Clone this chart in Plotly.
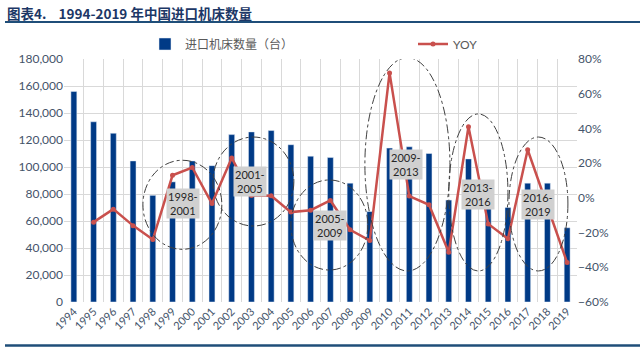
import plotly.graph_objects as go

years = [str(y) for y in range(1994, 2020)]
imports = [156000, 133500, 125000, 104500, 79000, 89000, 104500, 101000, 124000, 126000,
           127000, 116500, 108000, 107000, 88000, 67000, 114000, 115000, 110000, 75500,
           106000, 81000, 70000, 88000, 88000, 55000]
yoy_years = years[1:]
yoy = [-14.0, -6.5, -16.0, -24.0, 13.0, 17.5, -3.3, 23.0, 1.3, 1.2,
       -8.2, -7.1, -1.5, -18.4, -24.6, 72.0, 1.0, -4.0, -31.3, 41.0,
       -15.0, -23.6, 27.7, -5.0, -37.3]

# period callouts: label, ellipse bounds (x index range, y count range), label position
periods = [
    ("1998-<br>2001", (3.5, 7.5), (39000, 105000), (5.52, 72600)),
    ("2001-<br>2005", (7.05, 11.15), (56300, 122200), (8.92, 89600)),
    ("2005-<br>2009", (11.0, 14.9), (23700, 90400), (12.97, 57000)),
    ("2009-<br>2013", (14.75, 19.06), (23000, 181000), (16.83, 102200)),
    ("2013-<br>2016", (19.0, 22.0), (23000, 139300), (20.48, 80000)),
    ("2016-<br>2019", (22.05, 25.04), (23000, 122200), (23.52, 72000)),
]

tick_color = "#44546A"
font_fam = "Lato, 'Noto Sans CJK SC', sans-serif"

W, H = 513, 243
def px_x(p):
    return (p - 64) / W
def px_y(p):
    return (302 - p) / H

fig = go.Figure()
fig.add_trace(go.Bar(x=years, y=imports, name="进口机床数量（台）", marker_color="#003A86",
                     width=0.3, yaxis="y", legend="legend"))
fig.add_trace(go.Scatter(x=yoy_years, y=yoy, name="YOY", mode="lines+markers",
                         line=dict(color="#C9504D", width=2.5),
                         marker=dict(size=5, color="#C9504D"), yaxis="y2", legend="legend2"))

shapes = []
annotations = []
for label, (x0, x1), (y0, y1), (lx, ly) in periods:
    shapes.append(dict(type="circle", xref="x", yref="y", x0=x0, x1=x1, y0=y0, y1=y1,
                       line=dict(color="#404040", width=1, dash="dashdot"), layer="above"))
    annotations.append(dict(x=lx, y=ly, xref="x", yref="y", text=label, showarrow=False,
                            bgcolor="#D0D0D0", borderpad=1,
                            font=dict(size=11, color="#262626", family=font_fam)))

annotations.append(dict(x=px_x(5), y=px_y(13), xref="paper", yref="paper",
                        text="<b>图表4.    1994-2019 年中国进口机床数量</b>",
                        showarrow=False, xanchor="left", yanchor="middle",
                        font=dict(size=13.5, color="#1C3766", family="'Noto Sans CJK SC'")))
shapes.append(dict(type="line", xref="paper", yref="paper", x0=px_x(5), x1=px_x(640),
                   y0=px_y(22), y1=px_y(22), line=dict(color="#1F4E79", width=2)))
shapes.append(dict(type="line", xref="paper", yref="paper", x0=px_x(5), x1=px_x(640),
                   y0=px_y(345.5), y1=px_y(345.5), line=dict(color="#1F4E79", width=2.5)))

leg_common = dict(orientation="h", yanchor="middle", xanchor="left",
                  font=dict(size=12, color="#595959", family=font_fam),
                  bgcolor="rgba(0,0,0,0)")

fig.update_layout(
    width=640, height=351,
    margin=dict(l=64, r=63, t=59, b=49),
    plot_bgcolor="white", paper_bgcolor="white",
    font=dict(family=font_fam, color=tick_color),
    showlegend=True,
    legend=dict(x=px_x(145), y=px_y(44), **leg_common),
    legend2=dict(x=px_x(413), y=px_y(44), **leg_common),
    xaxis=dict(type="category", tickson="boundaries", showgrid=True, gridcolor="#D9D9D9",
               tickangle=-45, ticks="", tickfont=dict(size=11, color=tick_color),
               range=[-0.5, 25.5], showline=False, zeroline=False),
    yaxis=dict(range=[0, 180000], dtick=20000, tickformat=",", showgrid=True,
               gridcolor="#D9D9D9", tickfont=dict(size=12, color=tick_color), ticks="",
               zeroline=False),
    yaxis2=dict(range=[-60, 80], dtick=20, ticksuffix="%", overlaying="y", side="right",
                showgrid=False, zeroline=False, tickfont=dict(size=12, color=tick_color), ticks=""),
    shapes=shapes, annotations=annotations,
)

fig.write_html("out.html")
